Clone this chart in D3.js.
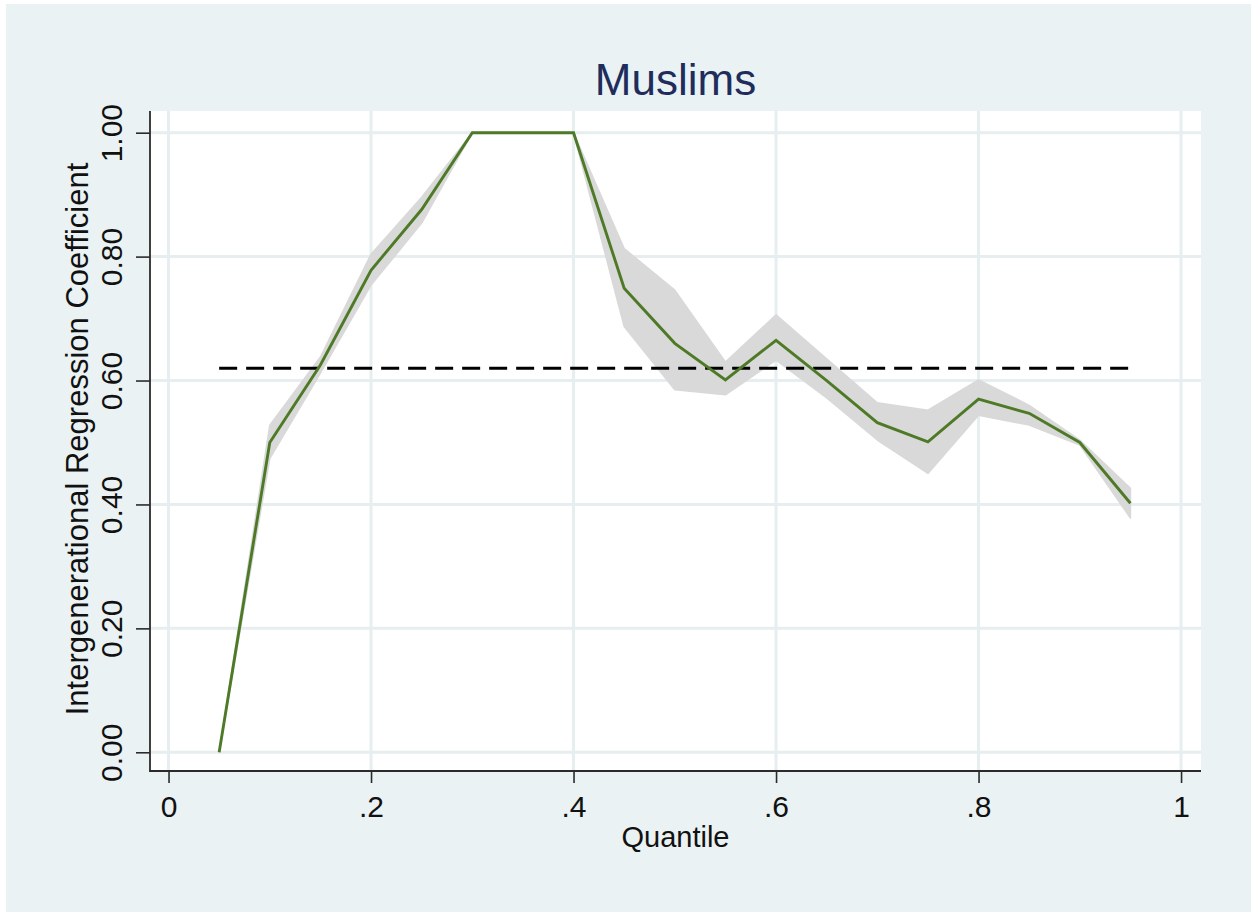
<!DOCTYPE html>
<html>
<head>
<meta charset="utf-8">
<script src="https://cdn.jsdelivr.net/npm/d3@7"></script>
<style>
  html, body { margin: 0; padding: 0; background: #ffffff; }
  svg { display: block; font-family: "Liberation Sans", Arial, sans-serif; }
</style>
</head>
<body>
<svg id="chart" width="1251" height="912"></svg>
<script>
// Quantile regression estimates with confidence band, Muslims
const quantiles = [0.05, 0.10, 0.15, 0.20, 0.25, 0.30, 0.35, 0.40, 0.45, 0.50,
                   0.55, 0.60, 0.65, 0.70, 0.75, 0.80, 0.85, 0.90, 0.95];
const coef    = [0.000, 0.500, 0.625, 0.778, 0.876, 1.000, 1.000, 1.000, 0.749, 0.660,
                 0.601, 0.665, 0.600, 0.532, 0.501, 0.570, 0.547, 0.500, 0.402];
const ciLower = [0.000, 0.474, 0.612, 0.754, 0.854, 1.000, 1.000, 1.000, 0.687, 0.585,
                 0.577, 0.633, 0.572, 0.504, 0.450, 0.544, 0.528, 0.496, 0.378];
const ciUpper = [0.000, 0.528, 0.638, 0.804, 0.896, 1.000, 1.000, 1.000, 0.813, 0.746,
                 0.630, 0.706, 0.635, 0.564, 0.552, 0.601, 0.560, 0.504, 0.426];
const olsCoef = 0.62;
const olsRange = [0.05, 0.95];

const xTickValues = [0, 0.2, 0.4, 0.6, 0.8, 1];
const xTickLabels = ["0", ".2", ".4", ".6", ".8", "1"];
const yTickValues = [0, 0.2, 0.4, 0.6, 0.8, 1.0];
const yTickLabels = ["0.00", "0.20", "0.40", "0.60", "0.80", "1.00"];

const titleText = "Muslims";
const xTitle = "Quantile";
const yTitle = "Intergenerational Regression Coefficient";

// Layout
const W = 1251, H = 912;
const plot = { left: 150, right: 1201, top: 111, bottom: 771 };
const bgColor = "#eaf2f3";
const gridColor = "#e6eef0";
const lineColor = "#4e7a27";
const bandColor = "#d9d9d9";
const axisColor = "#2b2b2b";

const svg = d3.select("#chart");

// Outer background
svg.append("rect")
  .attr("x", 6).attr("y", 4)
  .attr("width", W - 6).attr("height", H - 4)
  .attr("fill", bgColor);

// Plot region
svg.append("rect")
  .attr("x", plot.left).attr("y", plot.top)
  .attr("width", plot.right - plot.left).attr("height", plot.bottom - plot.top)
  .attr("fill", "#ffffff");

const x = d3.scaleLinear().domain([-0.0183, 1.0197]).range([plot.left, plot.right]);
const y = d3.scaleLinear().domain([-0.0302, 1.035]).range([plot.bottom, plot.top]);

// Grid lines
const grid = svg.append("g");
grid.selectAll("line.gx").data(xTickValues).join("line")
  .attr("x1", d => x(d)).attr("x2", d => x(d))
  .attr("y1", plot.top).attr("y2", plot.bottom)
  .attr("stroke", gridColor).attr("stroke-width", 3);
grid.selectAll("line.gy").data(yTickValues).join("line")
  .attr("x1", plot.left).attr("x2", plot.right)
  .attr("y1", d => y(d)).attr("y2", d => y(d))
  .attr("stroke", gridColor).attr("stroke-width", 3);

const rows = quantiles.map((q, i) => ({ q, b: coef[i], lo: ciLower[i], hi: ciUpper[i] }));

// Confidence band
svg.append("path")
  .datum(rows)
  .attr("fill", bandColor)
  .attr("stroke", bandColor)
  .attr("stroke-width", 1.5)
  .attr("stroke-linejoin", "round")
  .attr("d", d3.area().x(d => x(d.q)).y0(d => y(d.lo)).y1(d => y(d.hi)));

// OLS reference line
svg.append("line")
  .attr("x1", x(olsRange[0])).attr("x2", x(olsRange[1]))
  .attr("y1", y(olsCoef)).attr("y2", y(olsCoef))
  .attr("stroke", "#000000").attr("stroke-width", 3)
  .attr("stroke-dasharray", "18,9");

// Quantile coefficient line
svg.append("path")
  .datum(rows)
  .attr("fill", "none")
  .attr("stroke", lineColor)
  .attr("stroke-width", 2.9)
  .attr("stroke-linejoin", "miter")
  .attr("d", d3.line().x(d => x(d.q)).y(d => y(d.b)));

// Axes
const yAxis = d3.axisLeft(y)
  .tickValues(yTickValues)
  .tickSize(14)
  .tickPadding(0)
  .tickFormat((d, i) => yTickLabels[i]);
const gy = svg.append("g").attr("transform", `translate(${plot.left},0)`).call(yAxis);
gy.select(".domain").remove();
gy.selectAll(".tick line").attr("stroke", axisColor).attr("stroke-width", 1.6);
gy.selectAll(".tick text")
  .attr("x", null).attr("dy", null)
  .attr("transform", "translate(-28,0) rotate(-90)")
  .attr("text-anchor", "middle")
  .attr("font-size", 30)
  .attr("font-family", "Liberation Sans, Arial, sans-serif")
  .attr("fill", "#111111");

const xAxis = d3.axisBottom(x)
  .tickValues(xTickValues)
  .tickSize(12)
  .tickPadding(0)
  .tickFormat((d, i) => xTickLabels[i]);
const gx = svg.append("g").attr("transform", `translate(0,${plot.bottom})`).call(xAxis);
gx.select(".domain").remove();
gx.selectAll(".tick line").attr("stroke", axisColor).attr("stroke-width", 1.6);
gx.selectAll(".tick text")
  .attr("y", 46).attr("dy", null)
  .attr("font-size", 30)
  .attr("font-family", "Liberation Sans, Arial, sans-serif")
  .attr("fill", "#111111");

// Axis lines
svg.append("line")
  .attr("x1", plot.left).attr("x2", plot.left)
  .attr("y1", plot.top).attr("y2", plot.bottom + 0.8)
  .attr("stroke", axisColor).attr("stroke-width", 1.8);
svg.append("line")
  .attr("x1", plot.left - 0.8).attr("x2", plot.right)
  .attr("y1", plot.bottom).attr("y2", plot.bottom)
  .attr("stroke", axisColor).attr("stroke-width", 1.8);

// Titles
svg.append("text")
  .attr("x", (plot.left + plot.right) / 2).attr("y", 95)
  .attr("text-anchor", "middle")
  .attr("font-size", 44)
  .attr("fill", "#1f2d5c")
  .text(titleText);

svg.append("text")
  .attr("x", (plot.left + plot.right) / 2).attr("y", 847)
  .attr("text-anchor", "middle")
  .attr("font-size", 29)
  .attr("fill", "#111111")
  .text(xTitle);

svg.append("text")
  .attr("transform", `translate(88,${(plot.top + plot.bottom) / 2 - 2}) rotate(-90)`)
  .attr("text-anchor", "middle")
  .attr("font-size", 31)
  .attr("fill", "#111111")
  .text(yTitle);
</script>
</body>
</html>
